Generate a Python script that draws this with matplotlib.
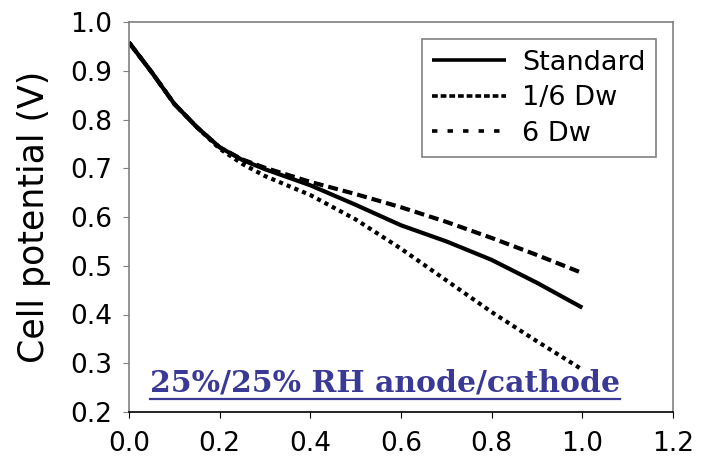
import numpy as np
import matplotlib.pyplot as plt
from matplotlib.lines import Line2D

plt.rcParams['font.family'] = ['DejaVu Sans']

# current density (x) and cell potential (V)
x = [0.0, 0.05, 0.1, 0.15, 0.2, 0.25, 0.3, 0.4, 0.5, 0.6, 0.7, 0.8, 0.9, 1.0]
standard = [0.958, 0.897, 0.832, 0.784, 0.743, 0.717, 0.698, 0.665, 0.625, 0.583, 0.55, 0.512, 0.465, 0.414]
dw_low = [0.958, 0.897, 0.832, 0.784, 0.743, 0.718, 0.701, 0.672, 0.647, 0.62, 0.59, 0.557, 0.522, 0.485]
dw_high = [0.958, 0.897, 0.832, 0.784, 0.740, 0.709, 0.684, 0.645, 0.595, 0.535, 0.47, 0.405, 0.345, 0.287]

labels = ["Standard", "1/6 Dw", "6 Dw"]
xticks = [0.0, 0.2, 0.4, 0.6, 0.8, 1.0, 1.2]
yticks = [0.2, 0.3, 0.4, 0.5, 0.6, 0.7, 0.8, 0.9, 1.0]

fig = plt.figure(figsize=(7.01, 4.62), dpi=100)
ax = fig.add_axes([129 / 701, 50 / 462, 544 / 701, 390 / 462])

ax.plot(x, standard, color="black", lw=3.0, solid_capstyle="butt")
ax.plot(x, dw_low, color="black", lw=3.0, dashes=(2.4, 1.2), dash_capstyle="butt")
ax.plot(x, dw_high, color="black", lw=3.0, dashes=(1.0, 1.0), dash_capstyle="butt")

ax.set_xlim(0, 1.2)
ax.set_ylim(0.2, 1.0)
ax.set_xticks(xticks)
ax.set_yticks(yticks)
ax.set_xticklabels([f"{v:.1f}" for v in xticks])
ax.set_yticklabels([f"{v:.1f}" for v in yticks])
ax.tick_params(labelsize=19, length=4, direction="out")
ax.tick_params(axis="y", color="#808080", pad=8)
ax.tick_params(axis="x", color="black", pad=9.5)
ax.set_ylabel("Cell potential (V)", fontsize=25, labelpad=14)

for side in ["left", "top", "right"]:
    ax.spines[side].set_color("#808080")
    ax.spines[side].set_linewidth(1.2)
ax.spines["bottom"].set_color("black")
ax.spines["bottom"].set_linewidth(1.2)
ax.spines["bottom"].set_zorder(3)

handles = [
    Line2D([], [], color="black", lw=2.6, solid_capstyle="butt"),
    Line2D([], [], color="black", lw=2.6, dashes=(1.6, 0.8), dash_capstyle="butt"),
    Line2D([], [], color="black", lw=2.6, dashes=(1.5, 2.8), dash_capstyle="butt"),
]
leg = ax.legend(handles, labels, loc="upper right", bbox_to_anchor=(0.969, 0.957),
                fontsize=19.5, frameon=True, fancybox=False, handlelength=2.7,
                handletextpad=0.6, labelspacing=0.35, borderpad=0.4,
                borderaxespad=0)
leg.get_frame().set_edgecolor("#606060")
leg.get_frame().set_linewidth(1.2)

t = ax.text(0.47, 0.074, "25%/25% RH anode/cathode", transform=ax.transAxes,
            ha="center", va="center", fontsize=21.5, fontweight="bold",
            family="DejaVu Serif", color="#3a3a96")
fig.canvas.draw()
bb = t.get_window_extent().transformed(ax.transAxes.inverted())
ax.plot([bb.x0, bb.x1], [bb.y0 - 0.004, bb.y0 - 0.004], transform=ax.transAxes,
        color="#3a3a96", lw=1.6, clip_on=False)

fig.savefig("out.png", dpi=100)
